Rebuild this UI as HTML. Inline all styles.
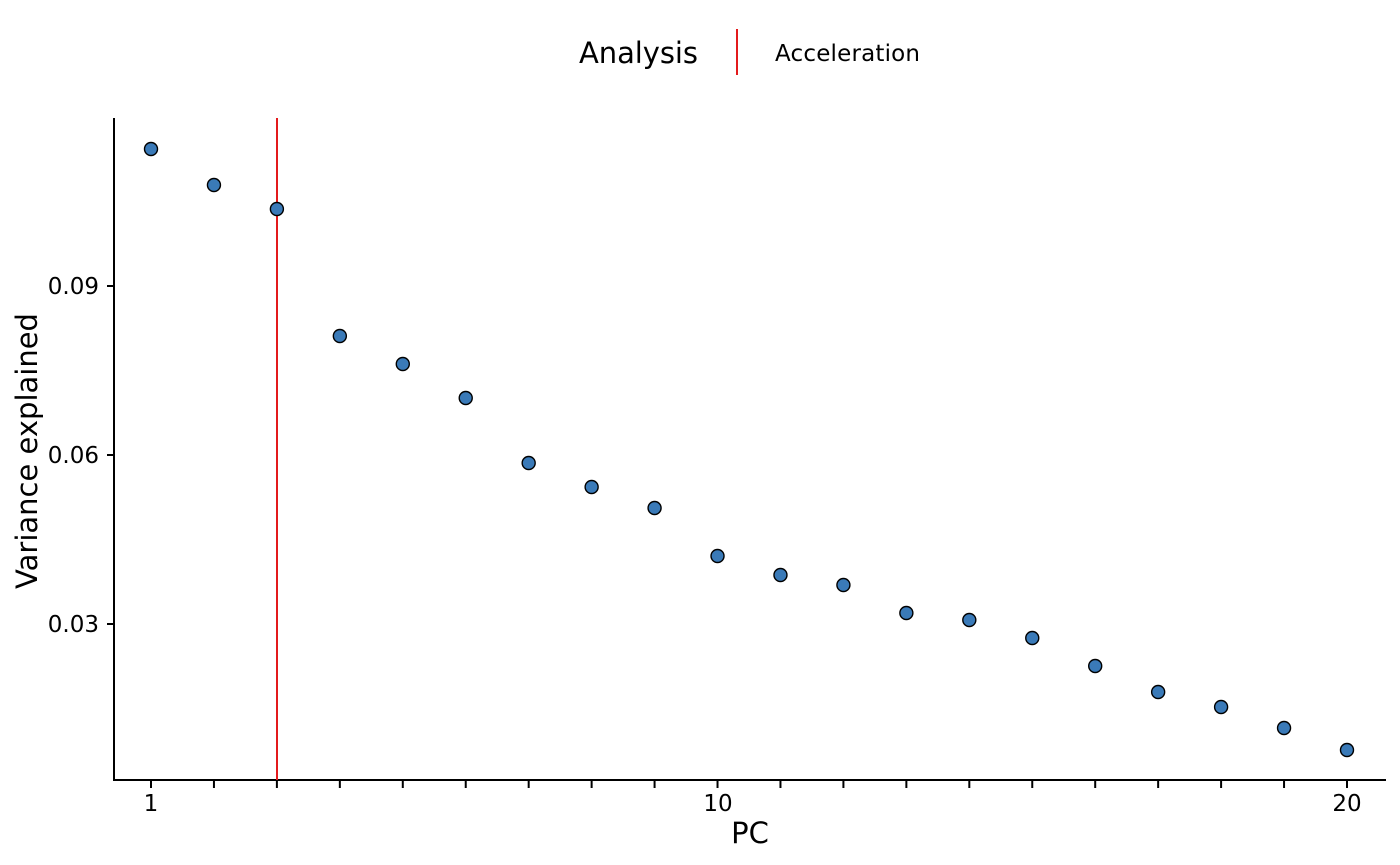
<!DOCTYPE html>
<html><head><meta charset="utf-8"><style>
html,body{margin:0;padding:0;background:#fff;}
svg{display:block;font-family:"DejaVu Sans","Liberation Sans",sans-serif;}
</style></head><body>
<svg width="1400" height="865" viewBox="0 0 1400 865">
<rect width="1400" height="865" fill="#fff"/>
<!-- legend -->
<text x="579" y="63" font-size="29" fill="#000" textLength="119">Analysis</text>
<line x1="737" y1="29" x2="737" y2="75" stroke="#e31a1c" stroke-width="2"/>
<text x="775" y="61" font-size="23" fill="#000" textLength="145">Acceleration</text>
<!-- axes -->
<line x1="114" y1="118" x2="114" y2="781" stroke="#000" stroke-width="2"/>
<line x1="113" y1="780" x2="1386" y2="780" stroke="#000" stroke-width="2"/>
<g stroke="#000" stroke-width="2">
<line x1="107" y1="286" x2="114" y2="286"/>
<line x1="107" y1="455" x2="114" y2="455"/>
<line x1="107" y1="624" x2="114" y2="624"/>
</g>
<g font-size="23" fill="#000" text-anchor="end">
<text x="99" y="294">0.09</text>
<text x="99" y="463">0.06</text>
<text x="99" y="632">0.03</text>
</g>
<g id="xt" stroke="#000" stroke-width="2"></g>
<g font-size="23" fill="#000" text-anchor="middle">
<text x="151" y="811">1</text>
<text x="718" y="811">10</text>
<text x="1347" y="811">20</text>
</g>
<text x="750" y="843" font-size="29" text-anchor="middle" fill="#000">PC</text>
<text transform="translate(37,451) rotate(-90)" font-size="29" text-anchor="middle" fill="#000">Variance explained</text>
<line x1="277" y1="118" x2="277" y2="780" stroke="#e31a1c" stroke-width="2"/>
<g id="pts" fill="#3a7ab8" stroke="#000" stroke-width="1.4"></g>
</svg>
<script>
var ys=[149,185,209,336,364,398,463,487,508,556,575,585,613,620,638,666,692,707,728,750];
var ns="http://www.w3.org/2000/svg",g=document.getElementById('pts'),t=document.getElementById('xt');
for(var i=0;i<20;i++){var x=151+i*62.947;
var c=document.createElementNS(ns,'circle');c.setAttribute('cx',x);c.setAttribute('cy',ys[i]);c.setAttribute('r',6.5);g.appendChild(c);
var l=document.createElementNS(ns,'line');l.setAttribute('x1',x);l.setAttribute('x2',x);l.setAttribute('y1',780);l.setAttribute('y2',788);t.appendChild(l);}
</script>
</body></html>
